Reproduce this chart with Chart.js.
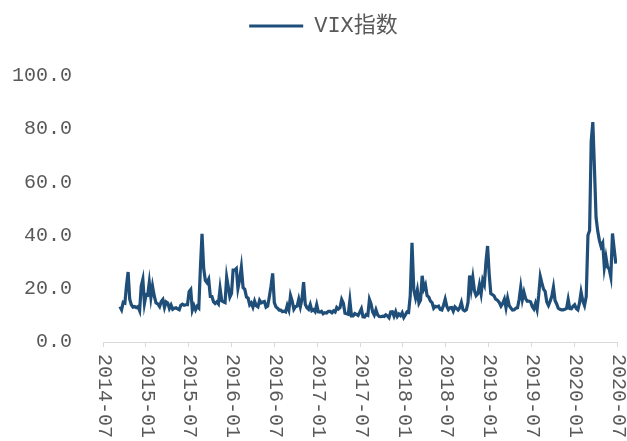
<!DOCTYPE html>
<html>
<head>
<meta charset="utf-8">
<script src="https://cdn.jsdelivr.net/npm/chart.js@4.4.1/dist/chart.umd.min.js"></script>
<style>
  html, body { margin: 0; padding: 0; background: #ffffff; }
  canvas { display: block; }
</style>
</head>
<body>
<canvas id="vixChart" width="627" height="441"></canvas>
<script>
// VIX index, one reading per week (weekly extremes kept where the index spiked)
const seriesName = 'VIX指数';
const firstWeek = '2014-09-12';

const vix2014 = [13.3, 12.1, 14.9, 14.6, 21.2, 26.3, 16.1, 14.0, 13.1, 13.3, 12.9, 13.3, 11.8, 21.1, 23.6, 14.5];
const vix2015 = [17.8, 17.6, 22.4, 16.7, 21.0, 17.3, 14.7, 14.3, 13.3, 15.2, 16.0, 13.0, 15.1,
                 14.7, 12.6, 13.9, 12.3, 12.7, 12.9, 12.4, 12.1, 13.8, 14.2, 13.8, 14.0, 14.0,
                 18.9, 19.7, 12.0, 13.7, 12.1, 13.4, 12.8, 28.0, 40.7, 27.8, 23.2, 22.3, 23.6,
                 17.1, 17.1, 15.1, 14.5, 15.1, 14.3, 20.1, 15.5, 15.1, 14.8, 24.4, 20.7, 16.9];
const vix2016 = [18.2, 27.0, 27.0, 27.6, 20.2, 23.4, 28.1, 20.5, 19.8, 16.9, 16.5, 14.0, 14.7,
                 13.1, 15.4, 13.6, 13.2, 15.7, 14.7, 15.0, 15.2, 13.1, 13.5, 17.0, 21.0, 25.8,
                 14.8, 13.2, 12.7, 12.0, 12.0, 11.4, 11.6, 11.3, 13.7, 12.0, 17.5, 15.4, 12.3, 13.3,
                 13.5, 16.1, 13.3, 16.2, 22.5, 14.2, 12.9, 12.3, 14.1, 11.8, 12.2, 11.4, 14.0];
const vix2017 = [11.3, 11.2, 11.5, 10.6, 11.0, 10.9, 11.5, 11.5, 11.0, 11.7, 11.3, 13.0, 12.4,
                 12.9, 16.0, 14.6, 10.8, 10.6, 10.4, 15.6, 9.8, 9.8, 10.7, 10.4, 10.0, 11.2,
                 12.5, 9.5, 9.4, 10.3, 10.0, 16.0, 14.3, 11.3, 10.1, 12.1, 10.2, 9.6, 9.5,
                 9.7, 9.6, 10.2, 9.8, 9.1, 11.3, 11.4, 9.7, 11.4, 9.6, 10.5, 9.9, 11.0];
const vix2018 = [9.2, 10.2, 11.3, 11.1, 17.3, 37.3, 19.5, 16.5, 19.6, 14.6, 15.8, 24.9, 20.0,
                 21.5, 17.4, 16.9, 15.4, 14.8, 12.7, 13.4, 13.2, 13.5, 12.2, 12.0, 13.8, 16.1,
                 13.4, 12.2, 12.9, 13.0, 11.6, 13.2, 12.6, 12.0, 12.9, 14.9, 12.1, 11.7, 12.1,
                 14.8, 25.0, 19.9, 24.2, 19.3, 17.4, 18.1, 21.5, 18.1, 23.2, 21.6, 30.1, 36.1];
const vix2019 = [25.5, 18.2, 17.8, 17.4, 16.1, 15.7, 14.9, 13.5, 14.6, 16.1, 12.9, 16.5, 13.7,
                 12.8, 12.0, 12.1, 12.7, 12.9, 16.0, 20.6, 15.9, 18.7, 16.3, 15.3, 15.4, 15.1,
                 13.3, 12.4, 14.5, 12.2, 17.6, 24.6, 22.1, 19.9, 19.0, 15.0, 13.7, 15.3, 17.2,
                 20.6, 15.6, 14.3, 12.7, 12.3, 12.1, 12.1, 12.3, 12.6, 16.0, 12.6, 12.5, 13.4];
const vix2020 = [14.0, 12.6, 12.1, 14.6, 18.8, 15.5, 13.7, 17.1, 40.1, 41.9, 75.5, 82.7, 65.5,
                 46.8, 41.7, 38.2, 35.9, 37.2, 28.0, 31.9, 28.2, 27.5, 24.5, 40.8, 35.1, 29.5];

// Axis ticks: x in months counted from 2014-07
const xTickMonths = [0, 6, 12, 18, 24, 30, 36, 42, 48, 54, 60, 66, 72];
const xTickLabels = ['2014-07', '2015-01', '2015-07', '2016-01', '2016-07', '2017-01', '2017-07',
                     '2018-01', '2018-07', '2019-01', '2019-07', '2020-01', '2020-07'];
const yTickValues = [0, 20, 40, 60, 80, 100];
const yTickLabels = ['0.0', '20.0', '40.0', '60.0', '80.0', '100.0'];

const weeklyValues = [].concat(vix2014, vix2015, vix2016, vix2017, vix2018, vix2019, vix2020);

function monthsSinceStart(d) {
  const y = d.getUTCFullYear(), m = d.getUTCMonth(), day = d.getUTCDate();
  const daysInMonth = new Date(Date.UTC(y, m + 1, 0)).getUTCDate();
  return (y - 2014) * 12 + (m - 6) + (day - 1) / daysInMonth;
}

const t0 = Date.parse(firstWeek + 'T00:00:00Z');
const points = weeklyValues.map((v, i) => ({
  x: monthsSinceStart(new Date(t0 + i * 7 * 86400000)),
  y: v
}));

const TEXT_COLOR = '#595959';
const LINE_COLOR = '#1F4E79';
const MONO = '"Liberation Mono", "Noto Sans CJK SC", monospace';

// Extra room under the legend and a small horizontal nudge of the legend
const legendSpacer = {
  id: 'legendSpacer',
  afterInit(chart) {
    const lg = chart.legend;
    if (!lg) return;
    const fit = lg.fit;
    lg.fit = function () { fit.call(this); this.height += 29; };
    const draw = lg.draw;
    lg.draw = function () {
      const ctx = this.ctx;
      ctx.save();
      ctx.translate(9, 0);
      draw.call(this);
      ctx.restore();
    };
  }
};

// Date labels under the x axis, reading top to bottom
const verticalDateLabels = {
  id: 'verticalDateLabels',
  afterDraw(chart) {
    const { ctx, chartArea, scales: { x } } = chart;
    ctx.save();
    ctx.fillStyle = TEXT_COLOR;
    ctx.font = '20px ' + MONO;
    ctx.textAlign = 'left';
    ctx.textBaseline = 'middle';
    xTickMonths.forEach((m, i) => {
      const px = x.getPixelForValue(m);
      ctx.save();
      ctx.translate(px + 1, chartArea.bottom + 12);
      ctx.rotate(Math.PI / 2);
      ctx.fillText(xTickLabels[i], 0, 0);
      ctx.restore();
    });
    ctx.restore();
  }
};

new Chart(document.getElementById('vixChart').getContext('2d'), {
  type: 'line',
  data: {
    datasets: [{
      label: seriesName,
      data: points,
      borderColor: LINE_COLOR,
      backgroundColor: LINE_COLOR,
      borderWidth: 3.2,
      pointRadius: 0,
      tension: 0,
      fill: false
    }]
  },
  options: {
    responsive: false,
    animation: false,
    devicePixelRatio: 1,
    layout: { padding: { top: 5, left: 12, right: 10, bottom: 94 } },
    plugins: {
      tooltip: { enabled: false },
      legend: {
        display: true,
        position: 'top',
        labels: {
          boxWidth: 54,
          boxHeight: 3,
          padding: 10,
          color: TEXT_COLOR,
          font: { family: MONO, size: 22 },
          generateLabels(chart) {
            const items = Chart.defaults.plugins.legend.labels.generateLabels(chart);
            items.forEach(it => { it.lineWidth = 0; it.fillStyle = LINE_COLOR; });
            return items;
          }
        }
      }
    },
    scales: {
      x: {
        type: 'linear',
        min: 0,
        max: 72,
        afterBuildTicks(scale) { scale.ticks = xTickMonths.map(v => ({ value: v })); },
        ticks: { display: false },
        grid: { display: true, drawOnChartArea: false, drawTicks: true, tickLength: 5, color: '#D9D9D9' },
        border: { display: true, color: '#D9D9D9', width: 1 }
      },
      y: {
        min: 0,
        max: 100,
        afterBuildTicks(scale) { scale.ticks = yTickValues.map(v => ({ value: v })); },
        afterFit(scale) { scale.width = 91; },
        ticks: {
          padding: 31,
          color: TEXT_COLOR,
          font: { family: MONO, size: 20 },
          callback: (v) => yTickLabels[yTickValues.indexOf(v)]
        },
        grid: { display: false, drawTicks: false },
        border: { display: false }
      }
    }
  },
  plugins: [legendSpacer, verticalDateLabels]
});
</script>
</body>
</html>
